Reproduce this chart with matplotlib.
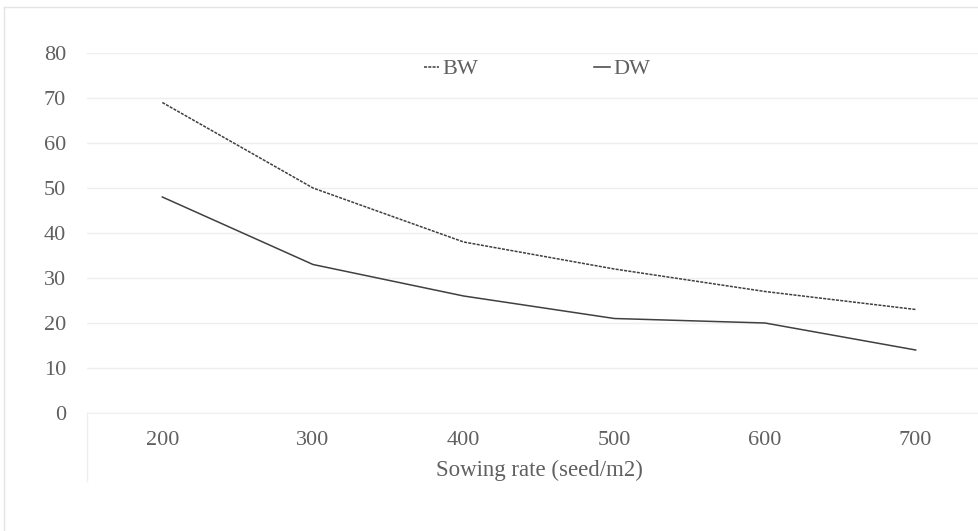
import numpy as np
from matplotlib import pyplot as plt
from matplotlib.lines import Line2D

# ---- data ----
sowing_rate = ["200", "300", "400", "500", "600", "700"]
bw = [69, 50, 38, 32, 27, 23]
dw = [48, 33, 26, 21, 20, 14]
y_ticks = [0, 10, 20, 30, 40, 50, 60, 70, 80]

plt.rcParams["font.family"] = ["Liberation Serif", "DejaVu Serif"]
txt_col = "#606060"
grid_col = "#efefef"

fig = plt.figure(figsize=(9.79, 5.31), dpi=100)
W, H = 979, 531
# plot area in pixels: x 87..991 (cut by figure edge), y 53..413
ax = fig.add_axes([87 / W, (H - 413) / H, (991 - 87) / W, 360 / H])

x = np.arange(len(sowing_rate))
ax.plot(x, bw, color="#404040", lw=1.1, ls=(0, (2, 0.8)), label="BW")
ax.plot(x, dw, color="#404040", lw=1.1, label="DW")

ax.set_xlim(-0.5, len(sowing_rate) - 0.5)
ax.set_ylim(0, 80)
ax.set_yticks(y_ticks)
ax.set_xticks(x)
ax.set_xticklabels(sowing_rate)
ax.tick_params(length=0, labelsize=16, colors=txt_col, pad=13)
ax.tick_params(axis="y", pad=15)
ax.grid(axis="y", color=grid_col, lw=1)
ax.set_axisbelow(True)
for s in ["top", "right", "left"]:
    ax.spines[s].set_visible(False)
ax.spines["bottom"].set_color(grid_col)
ax.set_xlabel("Sowing rate (seed/m2)", fontsize=16.5, color=txt_col, labelpad=7)

# vertical line under the category axis
fig.add_artist(Line2D([87 / W, 87 / W], [(H - 413) / H, (H - 481) / H],
                      color=grid_col, lw=1))
# chart border (top and left)
fig.add_artist(Line2D([4 / W, 4 / W], [0, (H - 7) / H], color="#e4e4e4", lw=1))
fig.add_artist(Line2D([4 / W, 1], [(H - 7) / H, (H - 7) / H], color="#e4e4e4", lw=1))

leg = ax.legend(loc="center", bbox_to_anchor=(537 / W, (H - 69) / H),
                bbox_transform=fig.transFigure, ncol=2, frameon=False,
                fontsize=16, handlelength=0.7, handletextpad=0.15,
                columnspacing=5.2, labelcolor=txt_col)

fig.savefig("out.png", dpi=100)
